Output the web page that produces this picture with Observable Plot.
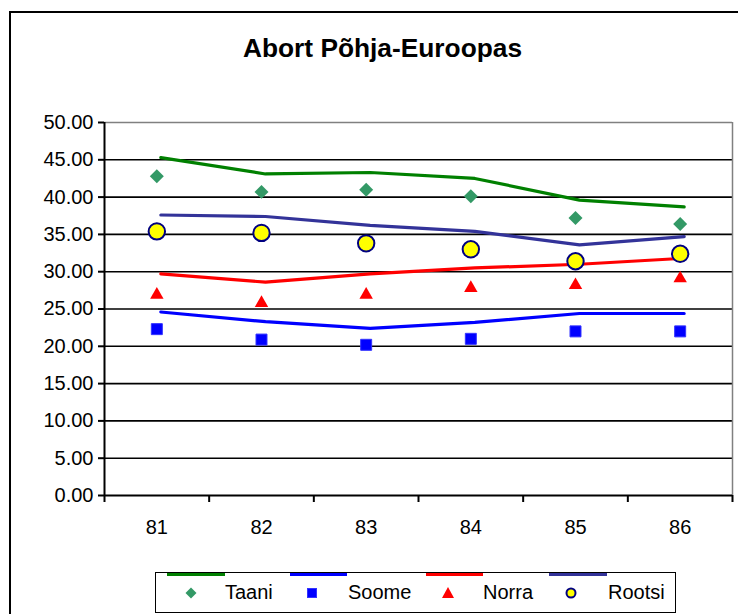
<!DOCTYPE html>
<html>
<head>
<meta charset="utf-8">
<script src="https://cdn.jsdelivr.net/npm/d3@7"></script>
<script src="https://cdn.jsdelivr.net/npm/@observablehq/plot@0.6"></script>
<style>
  html, body { margin:0; padding:0; background:#fff; }
  body { width:738px; height:614px; overflow:hidden; position:relative; font-family:"Liberation Sans", Arial, sans-serif; }
  #frame { position:absolute; left:9px; top:11px; width:800px; height:700px; border:2px solid #000; box-sizing:border-box; }
  #title { position:absolute; left:0; width:765px; top:33px; text-align:center; font-weight:bold; font-size:26.3px; color:#000; }
  #chart { position:absolute; left:0; top:0; }
  #legend { position:absolute; left:155px; top:572px; width:521px; height:41px; border:1.5px solid #000; box-sizing:border-box; background:#fff; }
  .lg-line { position:absolute; height:3px; top:0px; }
  .lg-sym { position:absolute; top:12px; }
  .lg-text { position:absolute; top:8px; font-size:20px; color:#000; line-height:22px; }
</style>
</head>
<body>
<div id="frame"></div>
<div id="title">Abort Põhja-Euroopas</div>
<div id="chart"></div>
<div id="legend"></div>
<script>
// ---- data ----
const years = [81, 82, 83, 84, 85, 86];
const yTicks = [0, 5, 10, 15, 20, 25, 30, 35, 40, 45, 50];
const seriesNames = ["Taani", "Soome", "Norra", "Rootsi"];
const taaniLine  = [45.3, 43.1, 43.3, 42.5, 39.6, 38.7];
const taani      = [42.8, 40.7, 41.0, 40.1, 37.2, 36.4];
const soomeLine  = [24.6, 23.3, 22.4, 23.2, 24.4, 24.4];
const soome      = [22.3, 20.9, 20.2, 21.0, 22.0, 22.0];
const norraLine  = [29.7, 28.6, 29.7, 30.5, 31.0, 31.8];
const norra      = [26.9, 25.8, 26.9, 27.8, 28.2, 29.1];
const rootsiLine = [37.6, 37.4, 36.2, 35.4, 33.6, 34.7];
const rootsi     = [35.4, 35.2, 33.8, 33.0, 31.4, 32.4];

const lineColors = {Taani:"#008000", Soome:"#0000FF", Norra:"#FF0000", Rootsi:"#333399"};
const markerStyle = {
  Taani:  {symbol:"diamond2", fill:"#339966", stroke:"none", r:6.3, sw:0},
  Soome:  {symbol:"square2",  fill:"#0000FF", stroke:"#3333ff", r:7, sw:1},
  Norra:  {symbol:"triangle2",fill:"#FF0000", stroke:"none", r:6.4, sw:0},
  Rootsi: {symbol:"circle",   fill:"#FFFF00", stroke:"#000080", r:8.2, sw:2}
};

const lineSeries = {Taani: taaniLine, Soome: soomeLine, Norra: norraLine, Rootsi: rootsiLine};
const markSeries = {Taani: taani, Soome: soome, Norra: norra, Rootsi: rootsi};

const lineRows = seriesNames.flatMap(s => years.map((yr, i) => ({series:s, year:yr, value:lineSeries[s][i]})));
const markRows = seriesNames.flatMap(s => years.map((yr, i) => ({series:s, year:yr, value:markSeries[s][i]})));

const boundaries = d3.range(years[0] - 0.5, years[years.length-1] + 1, 1);
const gridVals = yTicks.slice(1, -1);

const marks = [
  Plot.ruleY(gridVals, {stroke:"#000", strokeWidth:1.6}),
  Plot.ruleY([yTicks[yTicks.length-1]], {stroke:"#808080", strokeWidth:1.5}),
  Plot.ruleX([boundaries[boundaries.length-1]], {stroke:"#808080", strokeWidth:1.5}),
  Plot.axisY({ticks: yTicks, tickFormat: d => d.toFixed(2), tickSize: 6, tickPadding: 5, fontSize: 20, strokeWidth: 2, label: null}),
  Plot.axisX({ticks: boundaries, tickFormat: () => "", tickSize: 7, strokeWidth: 2, label: null}),
  Plot.axisX({ticks: years, tickFormat: d => String(d), tickSize: 0, tickPadding: 24, fontSize: 20, label: null}),
  Plot.ruleX([boundaries[0]], {stroke:"#000", strokeWidth:2}),
  Plot.ruleY([0], {stroke:"#000", strokeWidth:2}),
];
for (const s of seriesNames) {
  marks.push(Plot.line(lineRows.filter(d => d.series === s), {x:"year", y:"value", stroke: lineColors[s], strokeWidth: 3.2, dx: 4}));
}
for (const s of seriesNames) {
  const m = markerStyle[s];
  marks.push(Plot.dot(markRows.filter(d => d.series === s), {x:"year", y:"value", symbol: m.symbol, fill: m.fill, stroke: m.stroke, strokeWidth: m.sw, r: m.r}));
}

const chart = Plot.plot({
  width: 738,
  height: 614,
  marginTop: 122,
  marginBottom: 119,
  marginLeft: 104,
  marginRight: 6,
  style: {background: "transparent", color: "#000", fontFamily: "'Liberation Sans', Arial, sans-serif"},
  x: {type: "linear", domain: [boundaries[0], boundaries[boundaries.length-1]], axis: null, label: null},
  y: {domain: [yTicks[0], yTicks[yTicks.length-1]], axis: null, label: null},
  marks
});
document.getElementById("chart").appendChild(chart);

// ---- legend ----
const legend = document.getElementById("legend");
const lgPos = {
  Taani:  {line:[11, 69],  sym:35,  text:69},
  Soome:  {line:[134, 191], sym:156, text:192},
  Norra:  {line:[270, 327], sym:292, text:327},
  Rootsi: {line:[393, 451], sym:415, text:452}
};
const symPaths = {
  Taani: '<path d="M0,-5.5L5.5,0L0,5.5L-5.5,0Z" fill="#339966"/>',
  Soome: '<rect x="-4.5" y="-4.5" width="9" height="9" fill="#0000FF" stroke="#3333ff"/>',
  Norra: '<path d="M0,-6L6,5L-6,5Z" fill="#FF0000"/>',
  Rootsi: '<circle r="4.5" fill="#FFFF00" stroke="#000080" stroke-width="2"/>'
};
for (const s of seriesNames) {
  const p = lgPos[s];
  const ln = document.createElement("div");
  ln.className = "lg-line";
  ln.style.left = p.line[0] + "px";
  ln.style.width = (p.line[1] - p.line[0]) + "px";
  ln.style.background = lineColors[s];
  legend.appendChild(ln);
  const sym = document.createElement("div");
  sym.className = "lg-sym";
  sym.style.left = (p.sym - 8) + "px";
  sym.innerHTML = `<svg width="16" height="16" viewBox="-8 -8 16 16">${symPaths[s]}</svg>`;
  legend.appendChild(sym);
  const tx = document.createElement("div");
  tx.className = "lg-text";
  tx.style.left = p.text + "px";
  tx.textContent = s;
  legend.appendChild(tx);
}
</script>
</body>
</html>
